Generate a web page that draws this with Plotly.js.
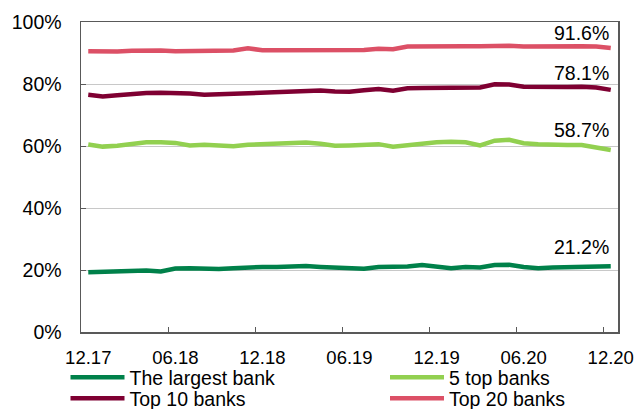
<!DOCTYPE html>
<html>
<head>
<meta charset="utf-8">
<script src="https://cdn.plot.ly/plotly-3.0.1.min.js"></script>
<style>html,body{margin:0;padding:0;background:#fff;}#chart{width:638px;height:409px;}</style>
</head>
<body>
<div id="chart"></div>
<script>
var months = ["12.17","01.18","02.18","03.18","04.18","05.18","06.18","07.18","08.18","09.18","10.18","11.18",
  "12.18","01.19","02.19","03.19","04.19","05.19","06.19","07.19","08.19","09.19","10.19","11.19",
  "12.19","01.20","02.20","03.20","04.20","05.20","06.20","07.20","08.20","09.20","10.20","11.20","12.20"];
var tickLabels = ["12.17","06.18","12.18","06.19","12.19","06.20","12.20"];

var largestBank = [19.3,19.4,19.5,19.8,19.8,19.5,20.5,20.6,20.5,20.3,20.6,20.9,
  21.0,21.0,21.1,21.3,21.0,20.9,20.8,20.4,21.0,21.0,21.1,21.6,
  21.2,20.6,21.0,20.8,21.6,21.7,21.0,20.6,20.8,20.9,20.9,21.0,21.2];
var top5Banks = [60.5,59.8,60.1,60.5,61.2,61.2,61.0,60.2,60.4,60.2,59.9,60.4,
  60.5,60.6,61.0,61.1,60.7,60.1,60.2,60.4,60.6,59.8,60.3,60.5,
  61.2,61.4,61.2,60.2,61.7,62.0,60.9,60.6,60.3,60.3,60.3,59.4,58.7];
var top10Banks = [76.5,76.0,76.4,76.8,77.1,77.2,77.2,76.9,76.5,76.7,76.8,77.0,
  77.4,77.4,77.5,77.9,77.9,77.6,77.5,78.0,78.4,77.8,78.6,78.7,
  78.8,79.0,79.0,78.9,79.9,79.8,79.1,79.0,78.9,79.0,79.1,78.9,78.1];
var top20Banks = [90.6,90.4,90.5,90.7,90.8,90.8,90.6,90.7,90.8,90.8,90.8,91.5,
  90.9,90.9,90.9,90.9,90.8,90.7,90.8,91.0,91.4,91.2,92.1,92.2,
  92.2,92.3,92.2,92.2,92.4,92.3,92.1,92.2,92.2,92.2,92.2,92.1,91.6];
var endLabels = ["21.2%","58.7%","78.1%","91.6%"];
var names = ["The largest bank","5 top banks","Top 10 banks","Top 20 banks"];

var series = [largestBank, top5Banks, top10Banks, top20Banks];

// styling / placement (not data)
var colors = ["#00814A","#92D050","#7F0032","#DC5066"];
var legendIds = ["legend","legend2","legend3","legend4"];
var labelShift = [6, 7, 4, 2];
var FONT = "Liberation Sans, Arial, sans-serif";

var traces = series.map(function(s, i){
  return {x: months, y: s, type:"scatter", mode:"lines", name: names[i],
    line:{color: colors[i], width:4.5}, legend: legendIds[i], hoverinfo:"skip"};
});

var lastIdx = months.length - 1;
var annotations = series.map(function(s, i){
  return {x: lastIdx, y: s[lastIdx], xref:"x", yref:"y",
    text: endLabels[i], showarrow:false, xanchor:"right", yanchor:"bottom",
    xshift:0, yshift:labelShift[i], font:{family:FONT, size:19.5, color:"#000"}};
});

function legendAt(xp, yp){
  return {x:xp, xanchor:"left", y:yp, yanchor:"middle", orientation:"v",
    font:{family:FONT, size:19.5, color:"#000"}, bgcolor:"rgba(0,0,0,0)",
    itemwidth:54, borderwidth:0};
}
// plot area: x 81..618 (537px), y 22..332 (310px)
var colL = (65.5-81)/537, colR = (385-81)/537;
var row1 = (332-377.5)/310, row2 = (332-398.5)/310;

var layout = {
  width:638, height:409,
  margin:{l:81, r:20, t:22, b:77, pad:0, autoexpand:false},
  paper_bgcolor:"#fff", plot_bgcolor:"#fff",
  font:{family:FONT, size:18, color:"#000"},
  showlegend:true,
  xaxis:{type:"category", range:[-0.5, 36.5], tickmode:"array", tickvals: tickLabels, ticktext: tickLabels,
    tickson:"boundaries", ticks:"inside", ticklen:5, tickcolor:"#595959", tickwidth:1, tickangle:0,
    showgrid:false, showline:true, linecolor:"#595959", linewidth:1.5, mirror:true,
    zeroline:false, ticklabelstandoff:8, tickfont:{family:FONT, size:18.5, color:"#000"}, fixedrange:true, automargin:false},
  yaxis:{range:[0,100], tickmode:"array", tickvals:[0,20,40,60,80,100],
    ticktext:["0%","20%","40%","60%","80%","100%"],
    ticks:"inside", ticklen:5, tickcolor:"#595959", showgrid:true, gridcolor:"#C8C8C8", gridwidth:1,
    showline:true, linecolor:"#595959", linewidth:1.5, mirror:true, zeroline:false,
    ticklabelstandoff:14, tickfont:{family:FONT, size:19.5, color:"#000"}, fixedrange:true, automargin:false},
  legend: legendAt(colL, row1),
  legend2: legendAt(colR, row1),
  legend3: legendAt(colL, row2),
  legend4: legendAt(colR, row2),
  annotations: annotations
};
Plotly.newPlot("chart", traces, layout, {displayModeBar:false, staticPlot:true});
</script>
</body>
</html>
